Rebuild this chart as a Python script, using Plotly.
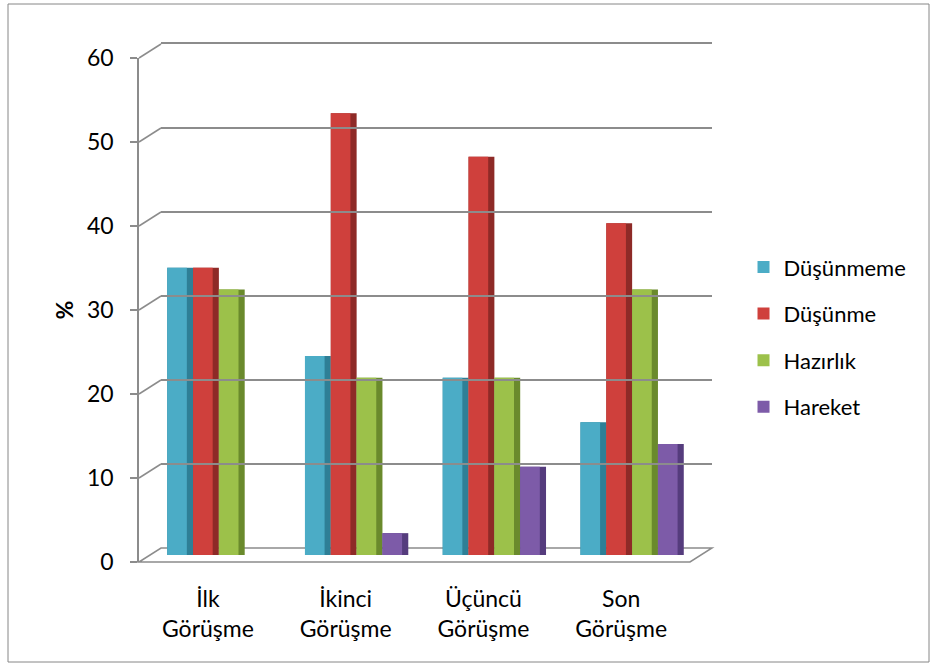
import plotly.graph_objects as go

# ---- data ----
categories = ["İlk<br>Görüşme", "İkinci<br>Görüşme", "Üçüncü<br>Görüşme", "Son<br>Görüşme"]
series_names = ["Düşünmeme", "Düşünme", "Hazırlık", "Hareket"]
dusunmeme = [34.2, 23.7, 21.1, 15.8]
dusunme = [34.2, 52.6, 47.4, 39.5]
hazirlik = [31.6, 21.1, 21.1, 31.6]
hareket = [0.0, 2.6, 10.5, 13.2]
y_ticks = [0, 10, 20, 30, 40, 50, 60]

series_values = [dusunmeme, dusunme, hazirlik, hareket]
face_colors = ["#4BACC6", "#CF403C", "#9CC14A", "#7D5BA8"]
side_colors = ["#2E7F96", "#8E2A27", "#6A8A2C", "#553C7D"]

# ---- geometry of the pseudo-3D frame (pixels) ----
W, H = 937, 668
ML, MR, MT, MB = 139, 225, 44, 106
PW, PH = W - ML - MR, H - MT - MB          # plot area
DX, DY = 22, 14                            # depth offset front -> back wall
fx1, fy1 = (PW - DX) / PW, (PH - DY) / PH  # front plane extent in paper units
dx, dy = DX / PW, DY / PH

FONT = "Lato"
GRAY = "#8C8C8C"

fig = go.Figure()

# Bars sit half-way between the front axis and the back wall
n = len(series_names)
group = 0.75
bw = group / n
for i, (name, vals) in enumerate(zip(series_names, series_values)):
    off = -group / 2 + i * bw
    # darker side face
    fig.add_trace(go.Bar(
        x=categories, y=vals, xaxis="x2", yaxis="y2",
        offset=off, width=bw, marker=dict(color=side_colors[i], line=dict(width=0)),
        showlegend=False, hoverinfo="skip", legendgroup=name,
    ))
    # lit front face
    fig.add_trace(go.Bar(
        x=categories, y=vals, xaxis="x2", yaxis="y2", name=name,
        offset=off, width=bw * 0.76,
        marker=dict(color=face_colors[i], line=dict(width=0)),
        legendgroup=name,
    ))

# invisible traces that activate the front and back-wall axes
fig.add_trace(go.Scatter(x=categories, y=[None] * 4, xaxis="x", yaxis="y",
                         showlegend=False, hoverinfo="skip"))
fig.add_trace(go.Scatter(x=categories, y=[None] * 4, xaxis="x3", yaxis="y3",
                         showlegend=False, hoverinfo="skip"))

shapes = []
# floor
shapes.append(dict(
    type="path", xref="paper", yref="paper", layer="below",
    path=f"M 0 0 L {dx} {dy} L 1 {dy} L {fx1} 0 Z",
    line=dict(color=GRAY, width=1.5), fillcolor="white",
))
# connectors from front ticks to back-wall gridlines
for v in y_ticks[1:]:
    yf = v / 60 * fy1
    shapes.append(dict(
        type="line", xref="paper", yref="paper", layer="below",
        x0=0, y0=yf, x1=dx, y1=yf + dy, line=dict(color=GRAY, width=1.5),
    ))
# chart border
shapes.append(dict(
    type="rect", xref="paper", yref="paper", layer="below",
    x0=(8 - ML) / PW, x1=(929 - ML) / PW,
    y0=(H - MB - 662) / PH, y1=(H - MB - 4) / PH,
    line=dict(color="#868686", width=1), fillcolor="rgba(0,0,0,0)",
))

cat_range = [-0.5, len(categories) - 0.5]

fig.update_layout(
    width=W, height=H,
    margin=dict(l=ML, r=MR, t=MT, b=MB),
    paper_bgcolor="white", plot_bgcolor="rgba(0,0,0,0)",
    font=dict(family=FONT, size=23, color="black"),
    barmode="overlay",
    showlegend=True,
    legend=dict(
        x=1.055, xanchor="left", y=0.434, yanchor="middle",
        font=dict(family=FONT, size=22), tracegroupgap=15,
        traceorder="grouped", bgcolor="rgba(0,0,0,0)",
    ),
    # front plane: tick labels and axis line
    xaxis=dict(
        domain=[0, fx1], anchor="y", type="category", range=cat_range,
        showgrid=False, showline=False, ticks="", ticklabelstandoff=21,
        tickfont=dict(family=FONT, size=23),
    ),
    yaxis=dict(
        domain=[0, fy1], anchor="x", range=[0, 60], tickvals=y_ticks,
        showgrid=False, zeroline=False, showline=True, linecolor=GRAY, linewidth=1.5,
        ticks="outside", ticklen=7, tickcolor=GRAY, tickwidth=1.5,
        ticklabelstandoff=12, tickfont=dict(family=FONT, size=23),
        title=dict(text="<b>%</b>", font=dict(family=FONT, size=23), standoff=7),
    ),
    # mid-depth plane: bars
    xaxis2=dict(
        domain=[dx / 2, fx1 + dx / 2], anchor="y2", type="category", range=cat_range,
        visible=False,
    ),
    yaxis2=dict(
        domain=[dy / 2, fy1 + dy / 2], anchor="x2", range=[0, 60], visible=False,
    ),
    # back wall: gridlines (top edge drawn as the axis line)
    xaxis3=dict(
        domain=[dx, 1], anchor="y3", type="category", range=cat_range, side="top",
        showgrid=False, showticklabels=False, showline=True, linecolor=GRAY,
        linewidth=1.5, ticks="",
    ),
    yaxis3=dict(
        domain=[dy, 1], anchor="x3", range=[0, 60], tickvals=y_ticks,
        showgrid=True, gridcolor=GRAY, gridwidth=1.5, zeroline=False,
        showticklabels=False, showline=False, ticks="",
    ),
    shapes=shapes,
)

fig.write_html("out.html")
